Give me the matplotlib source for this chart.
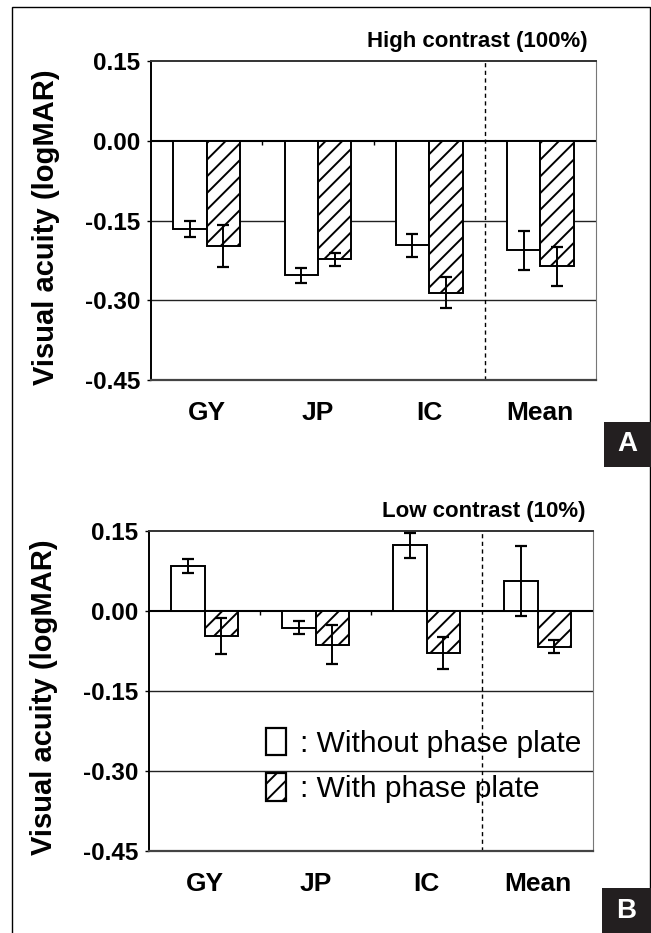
import numpy as np
import matplotlib.pyplot as plt
from matplotlib.patches import Patch, Rectangle
from matplotlib.transforms import ScaledTranslation

plt.rcParams['font.family'] = ['Liberation Sans', 'DejaVu Sans']
plt.rcParams['hatch.linewidth'] = 1.4

subjects = ["GY", "JP", "IC", "Mean"]
yticks = [0.15, 0.00, -0.15, -0.30, -0.45]

# high contrast (100%)
high_without = [-0.166, -0.253, -0.197, -0.206]
high_without_err = [0.015, 0.014, 0.022, 0.037]
high_with = [-0.198, -0.223, -0.286, -0.236]
high_with_err = [0.039, 0.012, 0.029, 0.037]

# low contrast (10%)
low_without = [0.084, -0.031, 0.123, 0.056]
low_without_err = [0.013, 0.013, 0.024, 0.066]
low_with = [-0.047, -0.063, -0.079, -0.067]
low_with_err = [0.033, 0.037, 0.030, 0.012]

W, H = 651, 933
BAR_W = 0.3


def draw_panel(ax, without, without_err, with_pp, with_err, title):
    x = np.arange(len(subjects))
    for y in yticks[2:4]:
        ax.axhline(y, color='#222222', lw=1.0, zorder=0)
    ax.axhline(0, color='black', lw=1.5, zorder=1)
    ax.axvline(len(subjects) - 1.5, color='black', lw=1.0,
               ls=(0, (3, 2.5)), zorder=1)

    ax.bar(x - BAR_W / 2, without, BAR_W, color='white', edgecolor='black',
           lw=1.4, zorder=2)
    ax.bar(x + BAR_W / 2, with_pp, BAR_W, color='white', edgecolor='black',
           hatch='//', lw=1.4, zorder=2)
    ax.errorbar(x - BAR_W / 2, without, yerr=without_err, fmt='none',
                ecolor='black', elinewidth=1.4, capsize=4, capthick=1.6,
                zorder=3)
    ax.errorbar(x + BAR_W / 2, with_pp, yerr=with_err, fmt='none',
                ecolor='black', elinewidth=1.4, capsize=4, capthick=1.6,
                zorder=3)
    # small marks on the zero line between groups
    ax.plot(x[:-2] + 0.5, np.zeros(len(x) - 2), ls='none', marker=3,
            ms=3, color='black', mew=1.0, zorder=1)

    ax.set_xlim(-0.5, len(subjects) - 0.5)
    ax.set_ylim(yticks[-1], yticks[0])
    ax.set_xticks(x)
    ax.set_xticklabels(subjects, fontsize=19, fontweight='bold')
    ax.set_yticks(yticks)
    ax.set_yticklabels([f"{v:.2f}" for v in yticks], fontsize=17.5,
                       fontweight='bold')
    for lab in ax.get_yticklabels():
        lab.set_transform(lab.get_transform()
                          + ScaledTranslation(0, -4 / 72, ax.figure.dpi_scale_trans))
    ax.tick_params(axis='x', length=0, pad=15)
    ax.tick_params(axis='y', length=3, width=1, pad=5)

    ax.spines['left'].set_linewidth(1.4)
    ax.spines['left'].set_color('black')
    ax.spines['top'].set_linewidth(1.4)
    ax.spines['top'].set_color('#333333')
    ax.spines['bottom'].set_linewidth(1.6)
    ax.spines['bottom'].set_color('#444444')
    ax.spines['right'].set_linewidth(0.8)
    ax.spines['right'].set_color('#777777')

    ax.set_ylabel("Visual acuity (logMAR)", fontsize=21, fontweight='bold')
    ax.yaxis.set_label_coords(-0.205, 0.48)
    ax.text(0.982, 1.045, title, transform=ax.transAxes, ha='right',
            va='baseline', fontsize=16, fontweight='bold')


fig = plt.figure(figsize=(W / 100, H / 100), dpi=100)

ax_a = fig.add_axes([151 / W, 1 - 380 / H, 445 / W, 319 / H])
draw_panel(ax_a, high_without, high_without_err, high_with, high_with_err,
           "High contrast (100%)")

ax_b = fig.add_axes([149 / W, 1 - 851 / H, 444 / W, 320 / H])
draw_panel(ax_b, low_without, low_without_err, low_with, low_with_err,
           "Low contrast (10%)")

handles = [Patch(facecolor='white', edgecolor='black', lw=1.6),
           Patch(facecolor='white', edgecolor='black', lw=1.6, hatch='//')]
ax_b.legend(handles, [": Without phase plate", ": With phase plate"],
            loc='upper left', bbox_to_anchor=(0.2635, 0.385), frameon=False,
            fontsize=21.5, handlelength=0.68, handleheight=1.05,
            handletextpad=0.45, labelspacing=0.52, borderpad=0,
            borderaxespad=0)

# outer frame and panel letters
fig.patches.append(Rectangle((12 / W, -0.01), (650 - 12) / W, 1 - 7 / H + 0.01,
                             transform=fig.transFigure, fill=False,
                             edgecolor='black', lw=1.0, zorder=0))
for letter, (x0, y_top) in zip("AB", [(604, 422), (602, 888)]):
    fig.patches.append(Rectangle((x0 / W, 1 - (y_top + 45) / H), (W - x0) / W + 0.01,
                                 45 / H, transform=fig.transFigure,
                                 facecolor='#231f20', edgecolor='none', zorder=5))
    fig.text((x0 + (W - x0) / 2) / W, 1 - (y_top + 22.5) / H, letter,
             ha='center', va='center', color='white', fontsize=20,
             fontweight='bold', family=['Liberation Sans Narrow', 'Liberation Sans'],
             zorder=6)

fig.savefig("out.png", dpi=100)
